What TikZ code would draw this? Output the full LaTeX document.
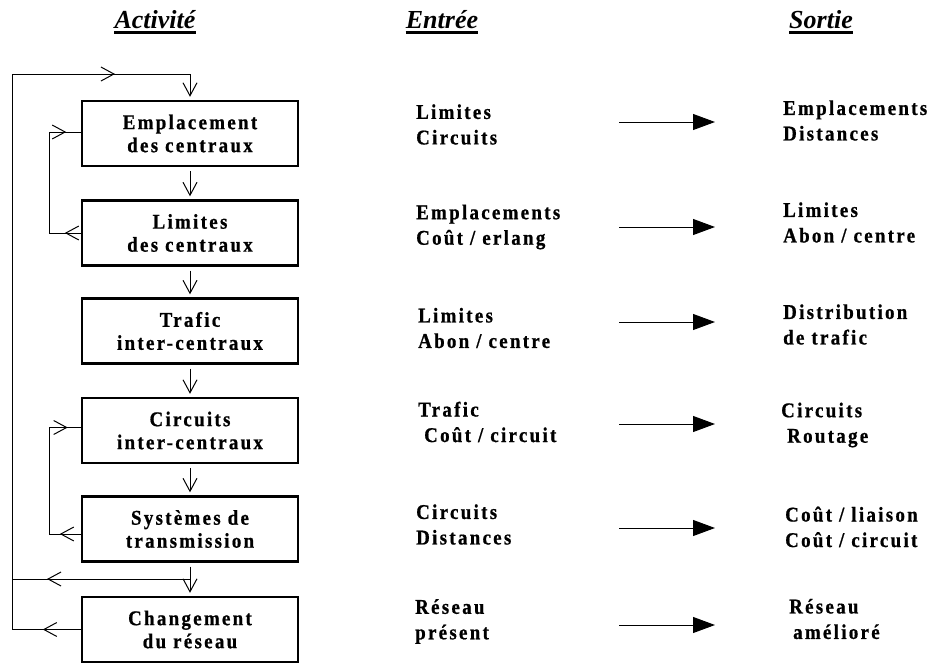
\documentclass[tikz,border=0pt]{standalone}
\usepackage{fontspec}
\setmainfont{Liberation Serif}
\newfontfamily\spfont[LetterSpace=11,FakeStretch=0.9,BoldFeatures={FakeBold=0.8}]{Liberation Serif}
\usetikzlibrary{arrows.meta,decorations.markings,calc}
\tikzset{
  barb/.tip={Straight Barb[length=13pt,width=14pt]},
  tri/.tip={Triangle[length=22pt,width=16pt]},
}
\begin{document}
\begin{tikzpicture}[x=1pt,y=-1pt,
  box/.style={draw, line width=2.4pt, minimum width=216pt, minimum height=65pt,
    align=center, inner sep=0pt, font=\spfont\bfseries\fontsize{21}{23}\selectfont},
  cell/.style={anchor=west, align=left, inner sep=0pt,
    font=\spfont\bfseries\fontsize{21}{25.5}\selectfont},
  hdr/.style={anchor=base, inner sep=0pt, font=\bfseries\itshape\fontsize{26}{30}\selectfont},
  ln/.style={line width=1pt},
  down/.style={ln, -{barb}, shorten <=4pt, shorten >=3pt},
  rarr/.style={ln, -{tri}},
  marr/.style={postaction={decorate}, decoration={markings, mark=at position #1 with {\arrow{barb}}}},
]
\path[use as bounding box] (0,0) rectangle (932,664);

% headers
\node[hdr] (h1) at (155,28) {Activité};
\node[hdr] (h2) at (442,28) {Entrée};
\node[hdr] (h3) at (821,28) {Sortie};
\foreach \h in {h1,h2,h3}
  \draw[line width=3pt] ([yshift=-4.5pt]\h.base west) -- ([yshift=-4.5pt]\h.base east);

% activity boxes
\node[box] (b1) at (190,133.5) {Emplacement\\des centraux};
\node[box] (b2) at (190,233)   {Limites\\des centraux};
\node[box] (b3) at (190,331)   {Trafic\\inter-centraux};
\node[box] (b4) at (190,430.5) {Circuits\\inter-centraux};
\node[box] (b5) at (190,529)   {Systèmes de\\transmission};
\node[box] (b6) at (190,629.5) {Changement\\du réseau};

\draw[down] (b1.south) -- (b2.north);
\draw[down] (b2.south) -- (b3.north);
\draw[down] (b3.south) -- (b4.north);
\draw[down] (b4.south) -- (b5.north);
\draw[down] (b5.south) -- (b6.north);

% outer feedback
\coordinate (lx) at (12,74);
\coordinate (ylev) at (0,579);
\coordinate (ix) at (49,0);
\draw[ln, marr=38pt] (b6.west) -- (b6.west -| lx) -- (lx);
\draw[ln, marr=103pt, -{barb}, shorten >=3pt] (lx) -- (lx -| b1.north) -- (b1.north);
\draw[ln, marr=143pt] (b5.south |- ylev) -- (lx |- ylev);

% inner loops
\draw[ln, postaction={decorate}, decoration={markings,
    mark=at position 16pt with {\arrow{barb}},
    mark=at position 150pt with {\arrow{barb}}}]
  (b2.west) -- (b2.west -| ix) -- ([yshift=1.5pt]b1.west -| ix) -- ([yshift=1.5pt]b1.west);
\draw[ln, postaction={decorate}, decoration={markings,
    mark=at position 21pt with {\arrow{barb}},
    mark=at position 157pt with {\arrow{barb}}}]
  ([yshift=-5pt]b5.west) -- ([yshift=-5pt]b5.west -| ix) -- ([yshift=3pt]b4.west -| ix) -- ([yshift=3pt]b4.west);

% inputs
\node[cell] (e1) at (416,124.5) {Limites\\Circuits};
\node[cell] (e2) at (416,227)   {Emplacements\\Coût / erlang};
\node[cell] (e3) at (418,328)   {Limites\\Abon / centre};
\node[cell] (e4) at (418,422)   {Trafic\\\hspace*{6pt}Coût / circuit};
\node[cell] (e5) at (416,524.5) {Circuits\\Distances};
\node[cell] (e6) at (415,621.5) {Réseau\\présent};

% outputs
\node[cell] (s1) at (783,120.5) {Emplacements\\Distances};
\node[cell] (s2) at (783,222.5) {Limites\\Abon / centre};
\node[cell] (s3) at (783,324.5) {Distribution\\de trafic};
\node[cell] (s4) at (781,425)   {Circuits\\\hspace*{6pt}Routage};
\node[cell] (s5) at (785,527)   {Coût / liaison\\Coût / circuit};
\node[cell] (s6) at (789,619)   {Réseau\\\hspace*{4pt}amélioré};

% arrows input -> output
\foreach \i/\y in {1/122,2/227,3/322,4/424,5/528,6/625} {
  \coordinate (r\i s) at (619,\y);
  \coordinate (r\i e) at (715,\y);
  \draw[rarr] (r\i s) -- (r\i e);
}
\end{tikzpicture}
\end{document}
